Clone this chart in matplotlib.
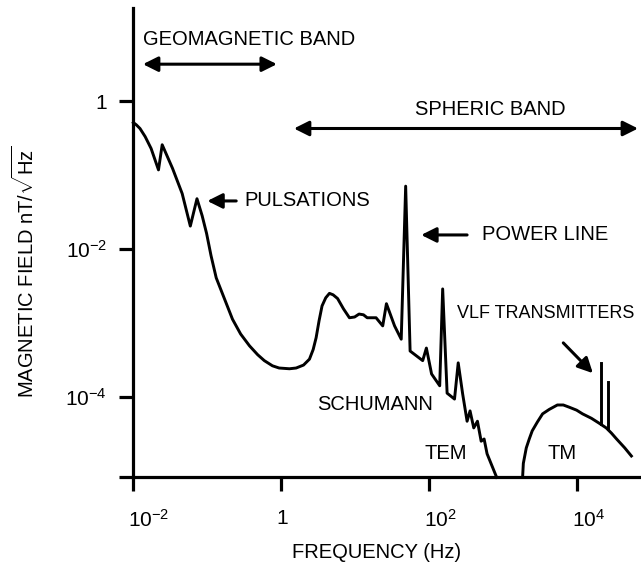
import numpy as np
import matplotlib
matplotlib.use("Agg")
import matplotlib.pyplot as plt
import matplotlib.transforms as mtransforms

plt.rcParams['font.family'] = ['Liberation Sans', 'DejaVu Sans']
plt.rcParams['mathtext.fontset'] = 'custom'
plt.rcParams['mathtext.rm'] = 'Liberation Sans'
plt.rcParams['mathtext.it'] = 'Liberation Sans:italic'
plt.rcParams['mathtext.bf'] = 'Liberation Sans:bold'

# TEM mode spectrum (log10 frequency in Hz, log10 field in nT/sqrt(Hz))
tem_log_f = [-2.00, -1.96, -1.91, -1.84, -1.76, -1.66, -1.61, -1.47, -1.34,
             -1.23, -1.14, -1.07, -1.01, -0.95, -0.88, -0.77, -0.66, -0.55,
             -0.43, -0.32, -0.23, -0.12, -0.03, 0.11, 0.20, 0.30, 0.38, 0.43,
             0.47, 0.51, 0.55, 0.60, 0.65, 0.70, 0.76, 0.84, 0.92, 0.99, 1.05,
             1.11, 1.16, 1.28, 1.37, 1.42, 1.53, 1.62, 1.68, 1.74, 1.91, 1.96,
             2.03, 2.14, 2.18, 2.24, 2.34, 2.39, 2.45, 2.51, 2.55, 2.60, 2.65,
             2.70, 2.74, 2.78, 2.91]
tem_log_b = [-0.29, -0.32, -0.37, -0.48, -0.64, -0.93, -0.59, -0.91, -1.25,
             -1.69, -1.32, -1.55, -1.79, -2.09, -2.39, -2.67, -2.95, -3.15,
             -3.31, -3.43, -3.51, -3.58, -3.61, -3.62, -3.61, -3.57, -3.49, -3.36,
             -3.20, -2.97, -2.77, -2.66, -2.60, -2.62, -2.67, -2.81, -2.93, -2.92, -2.88,
             -2.89, -2.93, -2.93, -3.04, -2.74, -3.04, -3.22, -1.15, -3.38, -3.51, -3.34,
             -3.69, -3.85, -2.54, -3.95, -4.03, -3.54, -3.96, -4.33, -4.19, -4.42, -4.33,
             -4.60, -4.57, -4.77, -5.09]

# TM mode spectrum
tm_log_f = [3.26, 3.27, 3.31, 3.35, 3.39, 3.46, 3.53, 3.62, 3.73, 3.81, 3.89,
            3.99, 4.07, 4.19, 4.30, 4.39, 4.46, 4.53, 4.64, 4.73]
tm_log_b = [-5.09, -4.90, -4.69, -4.57, -4.46, -4.34, -4.23, -4.17, -4.11, -4.11, -4.14,
            -4.18, -4.23, -4.29, -4.36, -4.42, -4.49, -4.57, -4.69, -4.80]

# VLF transmitter lines: frequency, base, top
vlf_log_f = [4.32, 4.41]
vlf_log_base = [-4.37, -4.43]
vlf_log_top = [-3.54, -3.80]

xticks = [1e-2, 1, 1e2, 1e4]
xtick_labels = [r'$10^{-2}$', '1', r'$10^{2}$', r'$10^{4}$']
yticks = [1e-4, 1e-2, 1]
ytick_labels = [r'$10^{-4}$', r'$10^{-2}$', '1']

fig = plt.figure(figsize=(6.41, 5.63), dpi=100)
ax = fig.add_axes([0.208, 0.1533, 0.792, 0.8325])
ax.set_xscale('log')
ax.set_yscale('log')
ax.set_xlim(10**-2.0, 10**4.86)
ax.set_ylim(10**-5.08, 10**1.26)

lw = 2.1
ax.plot(np.power(10.0, tem_log_f), np.power(10.0, tem_log_b), color='black', lw=lw, clip_on=False)
ax.plot(np.power(10.0, tm_log_f), np.power(10.0, tm_log_b), color='black', lw=lw, clip_on=False)
for f, b0, b1 in zip(vlf_log_f, vlf_log_base, vlf_log_top):
    ax.plot([10**f, 10**f], [10**b0, 10**b1], color='black', lw=lw)

for side in ['top', 'right']:
    ax.spines[side].set_visible(False)
for side in ['left', 'bottom']:
    ax.spines[side].set_linewidth(2.3)

ax.xaxis.set_minor_locator(matplotlib.ticker.NullLocator())
ax.yaxis.set_minor_locator(matplotlib.ticker.NullLocator())
ax.set_xticks(xticks)
ax.set_xticklabels(xtick_labels)
ax.set_yticks(yticks + [10**-5.08])
ax.set_yticklabels(ytick_labels + [''])
ax.tick_params(axis='both', length=10, width=2.3, labelsize=15, direction='out')
ax.tick_params(axis='x', pad=13)
ax.tick_params(axis='y', pad=9)
offset = mtransforms.ScaledTranslation(-5 / 100, 0, fig.dpi_scale_trans)
for lab in ax.get_xticklabels():
    lab.set_horizontalalignment('left')
    lab.set_transform(lab.get_transform() + offset)

fig.text(377 / 641, 1 - 558 / 563, 'FREQUENCY (Hz)', ha='center', va='baseline', fontsize=14.5)
fig.text(25 / 641, 1 - 272 / 563, r'MAGNETIC FIELD nT/$\sqrt{\mathrm{Hz}}$', rotation=90,
         ha='center', va='center', fontsize=14.5)

fs = 14.5
def label(lx, ly, s, size=fs):
    ax.text(10**lx, 10**ly, s, ha='left', va='center', fontsize=size)

def arrow(x0, y0, x1, y1, style='-|>'):
    ax.annotate('', xy=(10**x1, 10**y1), xytext=(10**x0, 10**y0),
                arrowprops=dict(arrowstyle=style + ',head_length=0.6,head_width=0.3',
                                lw=2.2, color='black', mutation_scale=15,
                                shrinkA=0, shrinkB=0), annotation_clip=False)

label(-1.87, 0.84, 'GEOMAGNETIC BAND')
arrow(-1.87, 0.50, -0.06, 0.50, '<|-|>')
label(1.80, -0.11, 'SPHERIC BAND')
arrow(0.17, -0.37, 4.82, -0.37, '<|-|>')
label(-0.50, -1.35, 'PULSATIONS')
arrow(-0.61, -1.35, -1.00, -1.35)
label(2.71, -1.81, 'POWER LINE')
arrow(2.51, -1.81, 1.89, -1.81)
label(2.37, -2.87, 'VLF TRANSMITTERS', size=13)
arrow(3.81, -3.27, 4.21, -3.68)
label(0.48, -4.10, 'SCHUMANN')
label(1.93, -4.76, 'TEM')
label(3.59, -4.76, 'TM')

fig.savefig('out.png', dpi=100)
